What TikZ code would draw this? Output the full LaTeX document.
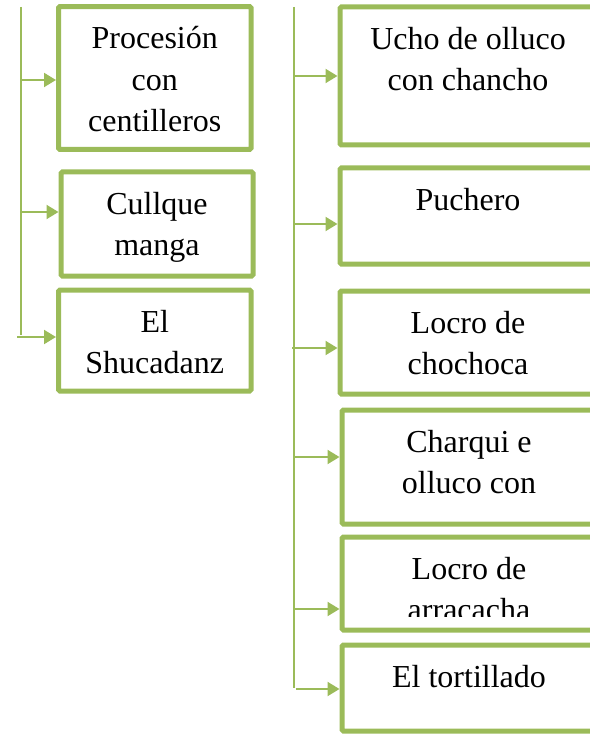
\documentclass[tikz,border=0pt]{standalone}
\usepackage{fontspec}
\setmainfont{Liberation Serif}
\usetikzlibrary{positioning}
\usetikzlibrary{arrows.meta}
\definecolor{leafgreen}{HTML}{9BBB59}
\newcommand{\tstrut}{\rule{0pt}{20pt}}

\begin{document}
\begin{tikzpicture}[x = 0.75pt, y = -0.75pt,
item/.style 2 args = {draw = leafgreen, line width = 3.75pt, rounded corners = 1pt, minimum width = #1*0.75pt, minimum height = #2*0.75pt, inner sep = 0pt},
txt/.style = {anchor = north, inner sep = 0pt, align = center, font = \fontsize{24}{31}\selectfont},
conn/.style = {draw = leafgreen, line width = 1.5pt, -{Triangle[length = 9pt, width = 10.5pt]}},
trunk/.style = {draw = leafgreen, line width = 1.5pt},
]
\useasboundingbox (0, 0) rectangle (589, 734);

% left column
\node[item = {192.5}{142.8}] (proc) at (154.75, 78.1) {};
\node[item = {192}{104}] (cull) at (157, 224) {};
\node[item = {192.5}{101}] (shuc) at (154.75, 340.5) {};
\node[txt, below = 13.4pt of proc.north] (proctxt) {\tstrut Procesión\\con\\centilleros};
\node[txt, below = 13.4pt of cull.north] (culltxt) {\tstrut Cullque\\manga};
\node[txt, below = 13.4pt of shuc.north] (shuctxt) {\tstrut El\\Shucadanz};

\coordinate (lt) at (21, 7);
\coordinate (lb) at (21, 335);
\coordinate (a1) at (21, 80);
\coordinate (a2) at (21, 212);
\coordinate (a3) at (17, 337);
\draw[trunk] (lt) -- (lb);
\draw[conn] (a1) -- (a1 -| proc.west);
\draw[conn] (a2) -- (a2 -| cull.west);
\draw[conn] (a3) -- (a3 -| shuc.west);

% right column
\node[item = {256}{138}] (ucho) at (468, 76) {};
\node[item = {256}{96}] (puch) at (468, 216) {};
\node[item = {256}{103}] (lchoc) at (468, 342.5) {};
\node[item = {254}{114}] (charq) at (469, 467) {};
\node[item = {254}{93}] (larr) at (469, 583.5) {};
\node[item = {254}{86}] (tort) at (469, 688) {};
\node[txt, below = 13.4pt of ucho.north] (uchotxt) {\tstrut Ucho de olluco\\con chancho};
\node[txt, below = 13.4pt of puch.north] (puchtxt) {\tstrut Puchero};
\node[txt, below = 13.4pt of lchoc.north] (lchoctxt) {\tstrut Locro de\\chochoca};
\node[txt, below = 13.4pt of charq.north] (charqtxt) {\tstrut Charqui e\\olluco con};
\begin{scope}
\clip (larr.north west) rectangle (600, 616);
\node[txt, below = 13.4pt of larr.north] (larrtxt) {\tstrut Locro de\\arracacha};
\end{scope}
\node[txt, below = 13.4pt of tort.north] (torttxt) {\tstrut El tortillado};

\coordinate (rt) at (294, 7);
\coordinate (rb) at (294, 688);
\coordinate (b1) at (294, 76);
\coordinate (b2) at (294, 224);
\coordinate (b3) at (292, 348);
\coordinate (b4) at (294, 457);
\coordinate (b5) at (294, 609);
\coordinate (b6) at (296, 689);
\draw[trunk] (rt) -- (rb);
\draw[conn] (b1) -- (b1 -| ucho.west);
\draw[conn] (b2) -- (b2 -| puch.west);
\draw[conn] (b3) -- (b3 -| lchoc.west);
\draw[conn] (b4) -- (b4 -| charq.west);
\draw[conn] (b5) -- (b5 -| larr.west);
\draw[conn] (b6) -- (b6 -| tort.west);
\end{tikzpicture}
\end{document}
